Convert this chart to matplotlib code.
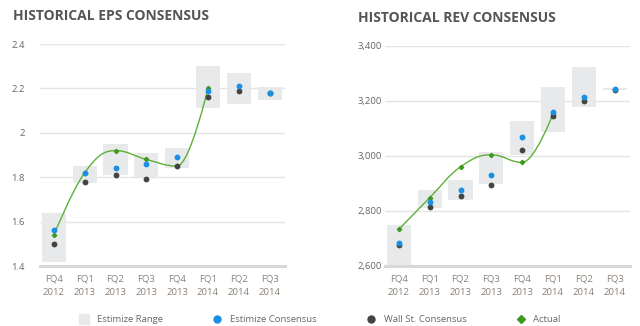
import matplotlib
matplotlib.use("Agg")
import matplotlib.pyplot as plt
from matplotlib.path import Path
from matplotlib.patches import PathPatch, Rectangle
from matplotlib.lines import Line2D

plt.rcParams['font.family'] = ['Open Sans', 'DejaVu Sans']

quarters = ['FQ4\n2012', 'FQ1\n2013', 'FQ2\n2013', 'FQ3\n2013', 'FQ4\n2013',
            'FQ1\n2014', 'FQ2\n2014', 'FQ3\n2014']

# EPS
eps_low = [1.42, 1.775, 1.81, 1.80, 1.84, 2.11, 2.13, 2.15]
eps_high = [1.64, 1.85, 1.95, 1.91, 1.93, 2.30, 2.27, 2.205]
eps_estimize = [1.56, 1.82, 1.84, 1.86, 1.89, 2.19, 2.21, 2.18]
eps_wallst = [1.50, 1.78, 1.81, 1.79, 1.85, 2.16, 2.19, 2.18]
eps_actual = [1.54, 1.82, 1.92, 1.88, 1.85, 2.20]

# Revenue
rev_low = [2600, 2812, 2840, 2897, 3004, 3088, 3178, 3239]
rev_high = [2750, 2876, 2912, 3015, 3128, 3249, 3324, 3247]
rev_estimize = [2685, 2832, 2876, 2930, 3068, 3158, 3214, 3244]
rev_wallst = [2677, 2814, 2854, 2893, 3021, 3146, 3200, 3239]
rev_actual = [2733, 2848, 2960, 3004, 2976, 3152]

BOX = '#e8e9ea'
BLUE = '#1a8fe6'
DARK = '#444444'
GREEN = '#3d9a1f'
LINE = '#5cb135'


def spline_path(xs, ys, smoothing=1.5):
    # highcharts-like spline control points
    n = len(xs)
    left = [(xs[0], ys[0])] * n
    right = [(xs[0], ys[0])] * n
    for i in range(n):
        x, y = xs[i], ys[i]
        if i == 0 or i == n - 1:
            left[i] = right[i] = (x, y)
            continue
        lx, ly = xs[i - 1], ys[i - 1]
        nx, ny = xs[i + 1], ys[i + 1]
        d = smoothing + 1
        lcx = (smoothing * x + lx) / d
        lcy = (smoothing * y + ly) / d
        rcx = (smoothing * x + nx) / d
        rcy = (smoothing * y + ny) / d
        corr = (rcy - lcy) * (rcx - x) / (rcx - lcx) + y - rcy
        lcy += corr
        rcy += corr
        if lcy > ly and lcy > y:
            lcy = max(ly, y)
            rcy = 2 * y - lcy
        elif lcy < ly and lcy < y:
            lcy = min(ly, y)
            rcy = 2 * y - lcy
        if rcy > ny and rcy > y:
            rcy = max(ny, y)
            lcy = 2 * y - rcy
        elif rcy < ny and rcy < y:
            rcy = min(ny, y)
            lcy = 2 * y - rcy
        left[i] = (lcx, lcy)
        right[i] = (rcx, rcy)
    verts = [(xs[0], ys[0])]
    codes = [Path.MOVETO]
    for i in range(1, n):
        verts += [right[i - 1], left[i], (xs[i], ys[i])]
        codes += [Path.CURVE4] * 3
    return Path(verts, codes)


def draw(ax, title, low, high, est, ws, actual, ylim, yticks, ylabels):
    x = list(range(len(quarters)))
    for i in x:
        ax.add_patch(Rectangle((i - 0.39, low[i]), 0.78, high[i] - low[i],
                               facecolor=BOX, edgecolor='none', zorder=1))
    xa = x[:len(actual)]
    ax.add_patch(PathPatch(spline_path(xa, actual), facecolor='none',
                           edgecolor=LINE, lw=1.0, zorder=3))
    ax.plot(xa, actual, 'D', color=GREEN, ms=2.2, zorder=4)
    ax.plot(x, ws, 'o', color=DARK, ms=4.2, mec='none', zorder=5)
    ax.plot(x, est, 'o', color=BLUE, ms=4.2, mec='none', zorder=6)
    ax.set_xlim(-0.45, 7.5)
    ax.set_ylim(*ylim)
    ax.set_yticks(yticks)
    ax.set_yticklabels(ylabels)
    ax.set_xticks(x)
    ax.set_xticklabels(quarters, linespacing=1.6)
    ax.grid(axis='y', color='#e4e4e4', lw=1.0)
    ax.set_axisbelow(True)
    for s in ['top', 'right', 'left']:
        ax.spines[s].set_visible(False)
    ax.spines['bottom'].set_color('#d8d8d8')
    ax.spines['bottom'].set_linewidth(2.2)
    ax.tick_params(length=0, labelsize=6.8)
    ax.tick_params(axis='x', colors='#8a8078', pad=6)
    ax.tick_params(axis='y', colors='#666666')
    ax.text(-0.11, 1.095, title, transform=ax.transAxes, fontsize=10,
            fontweight='bold', color='#555555', va='bottom')


fig = plt.figure(figsize=(6.4, 3.26), dpi=100)
ax1 = fig.add_axes([40 / 640, 60 / 326, 245 / 640, 222 / 326])
ax2 = fig.add_axes([385 / 640, 60 / 326, 245 / 640, 220.3 / 326])

draw(ax1, 'HISTORICAL EPS CONSENSUS', eps_low, eps_high, eps_estimize,
     eps_wallst, eps_actual, (1.4, 2.4), [1.4, 1.6, 1.8, 2.0, 2.2, 2.4],
     ['1.4', '1.6', '1.8', '2', '2.2', '2.4'])
ax1.tick_params(axis='y', pad=11)

draw(ax2, 'HISTORICAL REV CONSENSUS', rev_low, rev_high, rev_estimize,
     rev_wallst, rev_actual, (2600, 3400), [2600, 2800, 3000, 3200, 3400],
     ['2,600', '2,800', '3,000', '3,200', '3,400'])
ax2.tick_params(axis='y', pad=2)

handles = [
    Line2D([], [], marker='s', color=BOX, ls='none', ms=7),
    Line2D([], [], marker='o', color=BLUE, ls='none', ms=5),
    Line2D([], [], marker='o', color=DARK, ls='none', ms=5),
    Line2D([], [], marker='D', color=GREEN, ls='none', ms=4),
]
labels = ['Estimize Range', 'Estimize Consensus', 'Wall St. Consensus', 'Actual']
leg = fig.legend(handles, labels, loc='center', bbox_to_anchor=(0.5, 0.02),
                 ncol=4, frameon=False, fontsize=6.8, handletextpad=0.85,
                 columnspacing=5.25, handlelength=1.0)
for t in leg.get_texts():
    t.set_color('#666666')

fig.savefig('out.png', dpi=100)
